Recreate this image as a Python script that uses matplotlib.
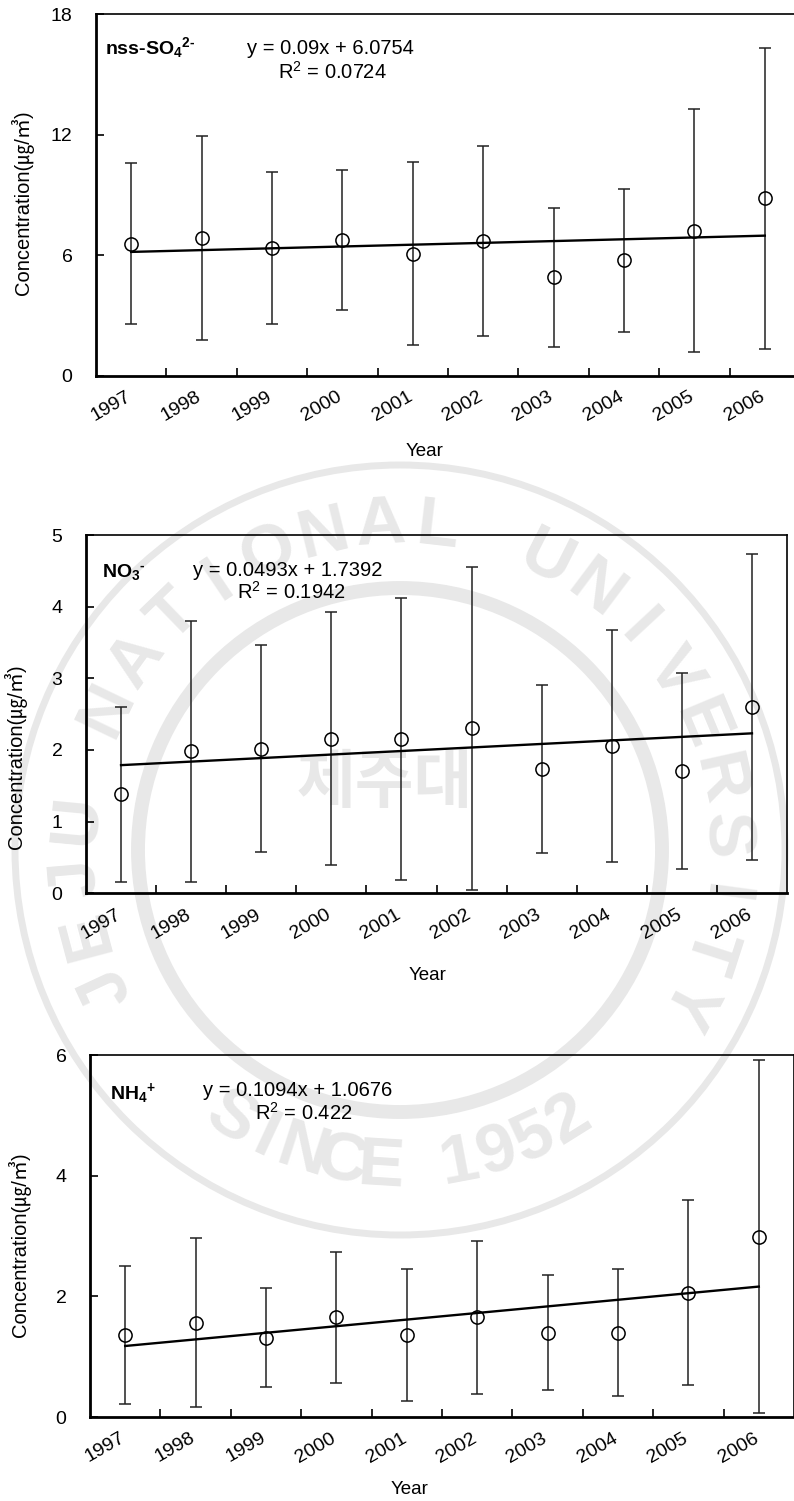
import numpy as np
import matplotlib
matplotlib.use("Agg")
import matplotlib.pyplot as plt
import matplotlib.transforms as mtransforms
from matplotlib.patches import Circle

plt.rcParams['font.family'] = ['Liberation Sans', 'Noto Sans CJK KR', 'DejaVu Sans']
plt.rcParams['mathtext.fontset'] = 'custom'
plt.rcParams['mathtext.rm'] = 'Liberation Sans'
plt.rcParams['mathtext.it'] = 'Liberation Sans'
plt.rcParams['mathtext.bf'] = 'Liberation Sans:bold'

years = ['1997', '1998', '1999', '2000', '2001', '2002', '2003', '2004', '2005', '2006']

so4_mean = [6.58, 6.86, 6.36, 6.75, 6.08, 6.72, 4.90, 5.74, 7.22, 8.83]
so4_sd = [4.00, 5.06, 3.79, 3.48, 4.55, 4.74, 3.45, 3.54, 6.05, 7.50]

no3_mean = [1.38, 1.98, 2.02, 2.16, 2.15, 2.30, 1.73, 2.06, 1.71, 2.60]
no3_sd = [1.22, 1.82, 1.44, 1.77, 1.97, 2.26, 1.17, 1.62, 1.37, 2.14]

nh4_mean = [1.36, 1.56, 1.31, 1.65, 1.36, 1.65, 1.40, 1.40, 2.06, 2.99]
nh4_sd = [1.15, 1.40, 0.82, 1.08, 1.10, 1.27, 0.96, 1.05, 1.53, 2.93]

so4_fit = (0.09, 6.0754)
no3_fit = (0.0493, 1.7392)
nh4_fit = (0.1094, 1.0676)

W, H = 794, 1501
fig = plt.figure(figsize=(W / 100, H / 100), dpi=100)

# faint university seal in the background of the scanned page
bg = fig.add_axes([0, 0, 1, 1], zorder=-10)
bg.set_xlim(0, W)
bg.set_ylim(H, 0)
bg.axis('off')
wm = '#e8e8e8'
cx, cy = 400, 850
for r, lw in [(385, 5), (262, 10)]:
    bg.add_patch(Circle((cx, cy), r, fill=False, ec=wm, lw=lw))
top_text = 'JEJU NATIONAL UNIVERSITY'
angs = np.linspace(205, -28, len(top_text))
for ch, a in zip(top_text, angs):
    t = np.radians(a)
    bg.text(cx + 325 * np.cos(t), cy - 325 * np.sin(t), ch, rotation=a - 90,
            ha='center', va='center', fontsize=50, fontweight='bold', color=wm)
bot_text = 'SINCE 1952'
angs = np.linspace(238, 302, len(bot_text))
for ch, a in zip(bot_text, angs):
    t = np.radians(a)
    bg.text(cx + 318 * np.cos(t), cy - 318 * np.sin(t), ch, rotation=a + 90,
            ha='center', va='center', fontsize=50, fontweight='bold', color=wm)
bg.text(385, 785, '제주대', ha='center', va='center', fontsize=46, fontweight='bold', color=wm)


def px_axes(left, top, right, bottom):
    ax = fig.add_axes([left / W, 1 - bottom / H, (right - left) / W, (bottom - top) / H])
    ax.patch.set_alpha(0)
    return ax


def panel(ax, mean, sd, fit, ymax, ystep, species, eq, r2, sp_xy, eq_xy, r2_xy):
    x = np.arange(1, len(years) + 1)
    ax.errorbar(x, mean, yerr=sd, fmt='none', ecolor='#222222', elinewidth=1.1,
                capsize=4.5, capthick=1.1, zorder=2)
    ax.plot(x, mean, 'o', ms=9.5, mfc='none', mec='black', mew=1.1, zorder=3)
    ax.plot(x, fit[0] * x + fit[1], color='black', lw=1.7, zorder=4)

    ax.set_xlim(0.5, 10.5)
    ax.set_ylim(0, ymax)
    ax.set_yticks(np.arange(0, ymax + 0.01, ystep))
    ax.set_xticks(x)
    ax.set_xticklabels(years, rotation=30, ha='right', rotation_mode='anchor', fontsize=14)
    ax.set_xticks(np.arange(1.5, 10, 1), minor=True)
    ax.tick_params(axis='x', which='major', length=0, pad=9)
    ax.tick_params(axis='x', which='minor', direction='in', length=6, width=1.2)
    ax.tick_params(axis='y', direction='in', length=6, width=1.2, pad=17, labelsize=14)
    ax.yaxis.set_minor_locator(plt.NullLocator())
    offset = mtransforms.ScaledTranslation(-6 / 100, 0, fig.dpi_scale_trans)
    for lbl in ax.get_xticklabels():
        lbl.set_transform(lbl.get_transform() + offset)

    for s in ['left', 'bottom']:
        ax.spines[s].set_linewidth(2.0)
    for s in ['top', 'right']:
        ax.spines[s].set_linewidth(1.2)

    ax.text(sp_xy[0], sp_xy[1], species, transform=ax.transAxes, fontsize=14,
            fontweight='bold', va='center', ha='left')
    ax.text(eq_xy[0], eq_xy[1], eq, transform=ax.transAxes, fontsize=14.5, va='center', ha='left')
    ax.text(r2_xy[0], r2_xy[1], r2, transform=ax.transAxes, fontsize=14.5, va='center', ha='left')


def frac(ax_box, px, py):
    left, top, right, bottom = ax_box
    return ((px - left) / (right - left), (bottom - py) / (bottom - top))


ylab = 'Concentration(㎍/㎥)'

# panel 1
b1 = (96, 14.3, 800, 375.7)
ax1 = px_axes(*b1)
panel(ax1, so4_mean, so4_sd, so4_fit, 18, 6,
      'nss-SO$_\\mathbf{4}$$^\\mathbf{2\u2010}$', 'y = 0.09x + 6.0754', r'R$^2$ = 0.0724',
      frac(b1, 105, 48), frac(b1, 247, 48), frac(b1, 278, 72))
fig.text(23 / W, 1 - 203 / H, ylab, rotation=90, ha='center', va='center', fontsize=14.5)
fig.text(425 / W, 1 - 452 / H, 'Year', ha='center', va='center', fontsize=13.5)

# panel 2
b2 = (86, 535, 787, 893.3)
ax2 = px_axes(*b2)
panel(ax2, no3_mean, no3_sd, no3_fit, 5, 1,
      'NO$_\\mathbf{3}$$^\\mathbf{\u2010}$', 'y = 0.0493x + 1.7392', r'R$^2$ = 0.1942',
      frac(b2, 102, 572), frac(b2, 193, 570), frac(b2, 237, 592))
fig.text(16 / W, 1 - 757 / H, ylab, rotation=90, ha='center', va='center', fontsize=14.5)
fig.text(428 / W, 1 - 975 / H, 'Year', ha='center', va='center', fontsize=13.5)

# panel 3
b3 = (90, 1055, 794, 1417)
ax3 = px_axes(*b3)
panel(ax3, nh4_mean, nh4_sd, nh4_fit, 6, 2,
      r'NH$_\mathbf{4}$$^\mathbf{+}$', 'y = 0.1094x + 1.0676', r'R$^2$ = 0.422',
      frac(b3, 110, 1093), frac(b3, 203, 1090), frac(b3, 255, 1113))
fig.text(20 / W, 1 - 1245 / H, ylab, rotation=90, ha='center', va='center', fontsize=14.5)
fig.text(410 / W, 1 - 1489 / H, 'Year', ha='center', va='center', fontsize=13.5)

fig.savefig('out.png', dpi=100)
